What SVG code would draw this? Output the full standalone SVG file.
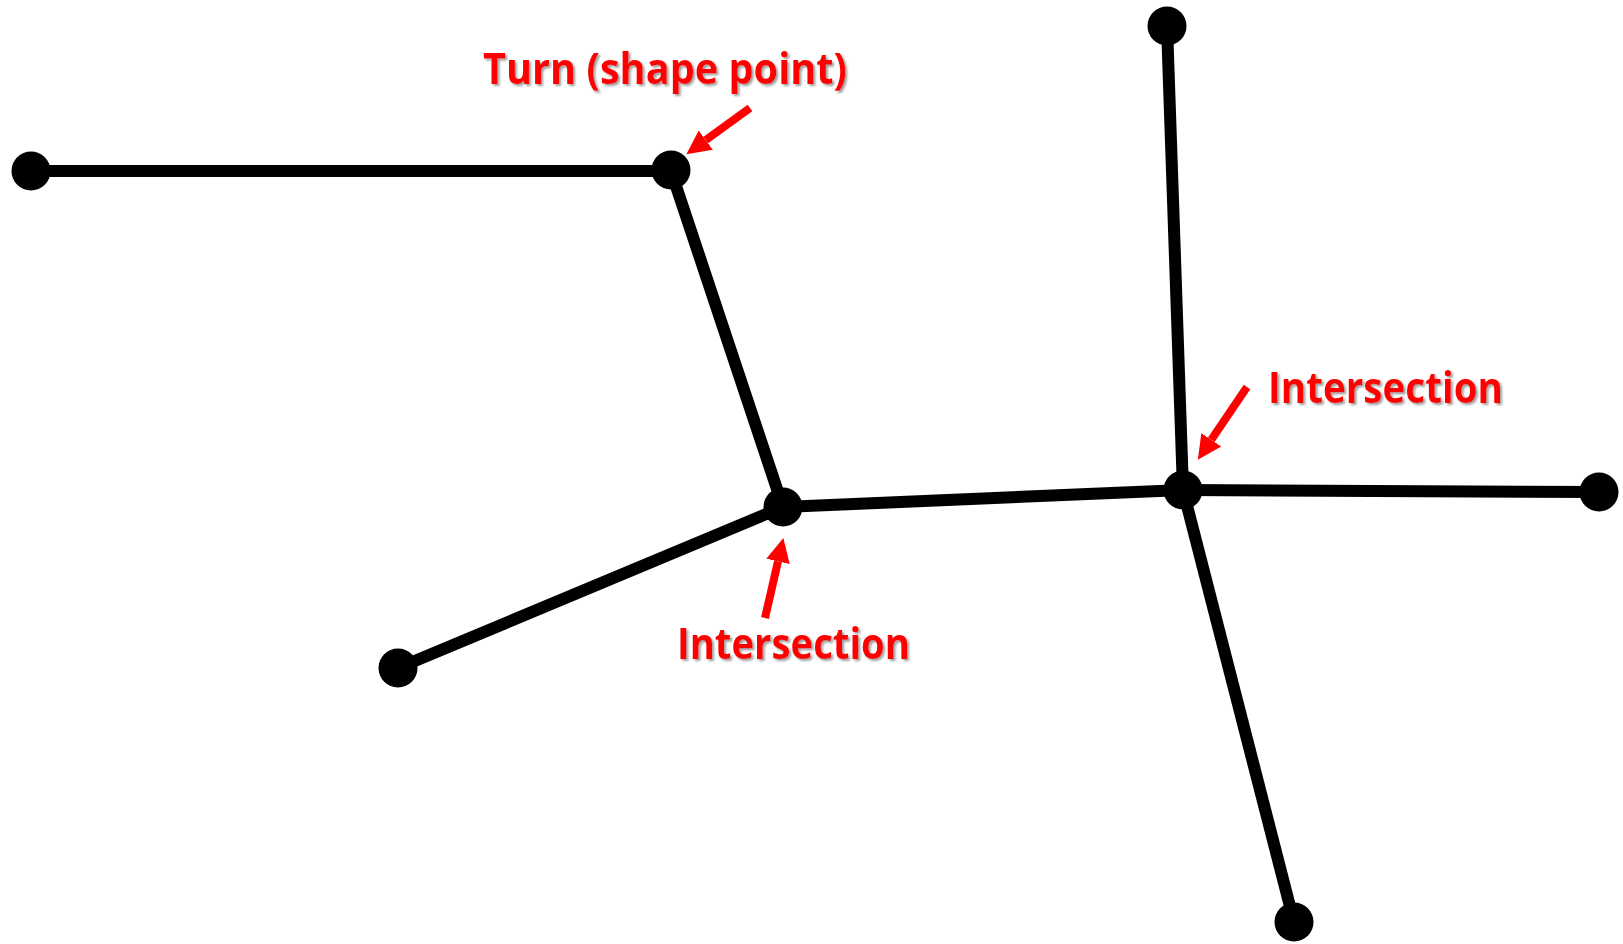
<svg xmlns="http://www.w3.org/2000/svg" width="1623" height="944" viewBox="0 0 1623 944">
<style>
.edge{stroke:#000;stroke-width:12;fill:none}
.node{fill:#000}
.lbl{font-family:"Open Sans","Liberation Sans",sans-serif;font-weight:bold;font-size:43px;fill:#ff0000;filter:url(#sh)}
.arr{stroke:#ff0000;stroke-width:8;fill:none;marker-end:url(#ah)}
</style>
<defs>
<filter id="sh" x="-5%" y="-20%" width="110%" height="150%">
<feDropShadow dx="2" dy="2" stdDeviation="1" flood-color="#888" flood-opacity="0.8"/>
</filter>
<marker id="ah" markerUnits="userSpaceOnUse" markerWidth="26" markerHeight="26" refX="0" refY="13" orient="auto">
<path d="M0,1 L24,13 L0,25 z" fill="#ff0000"/>
</marker>
</defs>
<g id="connectors">
<line class="edge" x1="31" y1="171" x2="671" y2="171"/>
<line class="edge" x1="671" y1="171" x2="783" y2="507"/>
<line class="edge" x1="398" y1="668" x2="783" y2="507"/>
<line class="edge" x1="783" y1="507" x2="1183" y2="490"/>
<line class="edge" x1="1167" y1="26" x2="1183" y2="490"/>
<line class="edge" x1="1183" y1="490" x2="1599" y2="492"/>
<line class="edge" x1="1183" y1="490" x2="1294" y2="922"/>
</g>
<g id="n-left"><circle class="node" cx="31" cy="171" r="19.5"/></g>
<g id="n-turn"><circle class="node" cx="671" cy="170" r="19.5"/></g>
<g id="n-int1"><circle class="node" cx="783" cy="507" r="19.5"/></g>
<g id="n-bottomleft"><circle class="node" cx="398" cy="668" r="19.5"/></g>
<g id="n-int2"><circle class="node" cx="1183" cy="490" r="19.5"/></g>
<g id="n-top"><circle class="node" cx="1167" cy="26" r="19.5"/></g>
<g id="n-right"><circle class="node" cx="1599" cy="492" r="19.5"/></g>
<g id="n-bottom"><circle class="node" cx="1294" cy="922" r="19.5"/></g>
<g id="label-turn">
<text class="lbl" x="483" y="84" textLength="364" lengthAdjust="spacingAndGlyphs">Turn (shape point)</text>
<line class="arr" x1="750" y1="108" x2="705.8" y2="140.1"/>
</g>
<g id="label-int2">
<text class="lbl" x="1268" y="403" textLength="235" lengthAdjust="spacingAndGlyphs">Intersection</text>
<line class="arr" x1="1247" y1="387" x2="1211.3" y2="439.8"/>
</g>
<g id="label-int1">
<text class="lbl" x="677" y="659" textLength="233" lengthAdjust="spacingAndGlyphs">Intersection</text>
<line class="arr" x1="765" y1="618" x2="778" y2="561.4"/>
</g>
</svg>
